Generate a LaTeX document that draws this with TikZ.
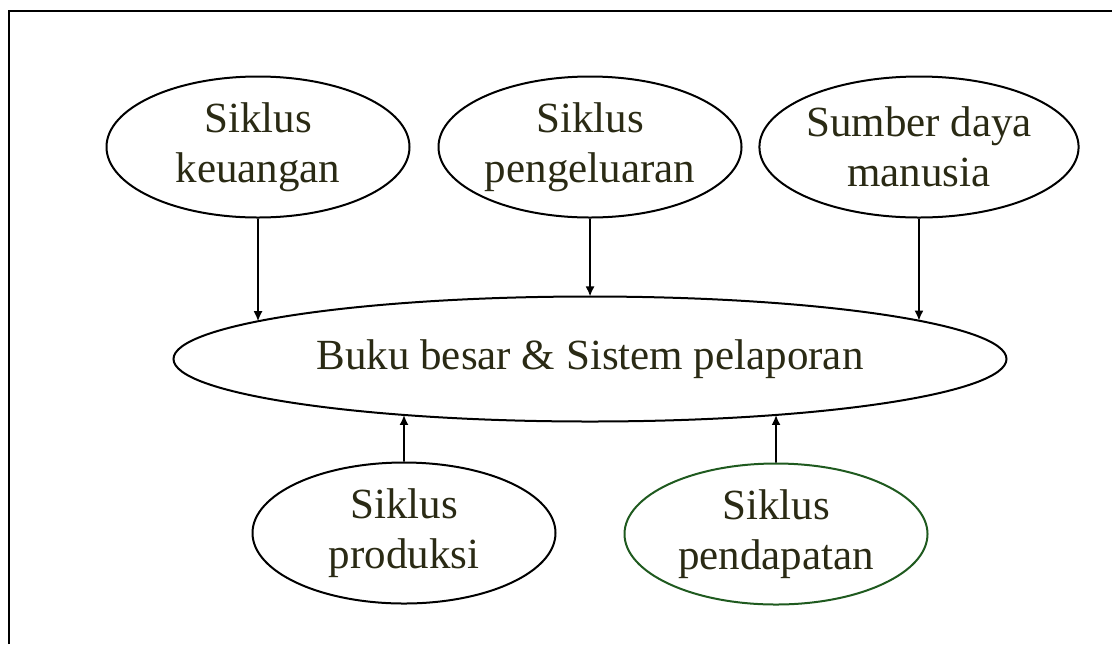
\documentclass[tikz,border=0pt]{standalone}
\usepackage{fontspec}
\setmainfont{Liberation Serif}
\usetikzlibrary{shapes.geometric,arrows.meta,intersections}
\definecolor{inkolive}{HTML}{2A2A14}
\definecolor{rimgreen}{HTML}{1F5A1F}
\begin{document}
\begin{tikzpicture}[x=0.5pt,y=-0.5pt,
  cycle/.style={ellipse,draw=black,line width=1pt,inner sep=0pt,
    minimum width=151.5pt,minimum height=70.5pt,align=center,
    text=inkolive,font=\fontsize{21.5}{25}\selectfont},
  hub/.style={cycle,minimum width=416.5pt,minimum height=62.5pt},
  link/.style={line width=0.9pt,-{Latex[length=5pt,width=4.5pt]}}]
  \useasboundingbox (0,0) rectangle (1112,644);
  % frame
  \draw[line width=1.4pt] (9,644) -- (9,11) -- (1112,11);
  % central ledger
  \node[hub,name path=hubpath] (gl) at (590,359) {Buku besar \& Sistem pelaporan};
  % surrounding cycles
  \node[cycle] (fin) at (258,147) {Siklus\\keuangan};
  \node[cycle] (exp) at (590,147) {Siklus\\pengeluaran};
  \node[cycle] (hr)  at (919,147) {Sumber daya\\manusia};
  \node[cycle] (prod) at (404,533) {Siklus\\produksi};
  \node[cycle,draw=rimgreen] (rev) at (776,534) {Siklus\\pendapatan};
  % vertical guides: the first crossing with the ledger ellipse is the arrow tip
  \path[name path=gfin] (fin.south) -- ++(0,250);
  \path[name path=gexp] (exp.south) -- ++(0,250);
  \path[name path=ghr]  (hr.south) -- ++(0,250);
  \path[name path=gprod] (prod.north) -- ++(0,-250);
  \path[name path=grev]  (rev.north) -- ++(0,-250);
  \path[name intersections={of=gfin and hubpath,sort by=gfin,by=tfin}];
  \path[name intersections={of=gexp and hubpath,sort by=gexp,by=texp}];
  \path[name intersections={of=ghr and hubpath,sort by=ghr,by=thr}];
  \path[name intersections={of=gprod and hubpath,sort by=gprod,by=tprod}];
  \path[name intersections={of=grev and hubpath,sort by=grev,by=trev}];
  % connectors
  \draw[link] (fin.south) -- (tfin);
  \draw[link] (exp.south) -- (texp);
  \draw[link] (hr.south) -- (thr);
  \draw[link] (prod.north) -- (tprod);
  \draw[link] (rev.north) -- (trev);
\end{tikzpicture}
\end{document}
